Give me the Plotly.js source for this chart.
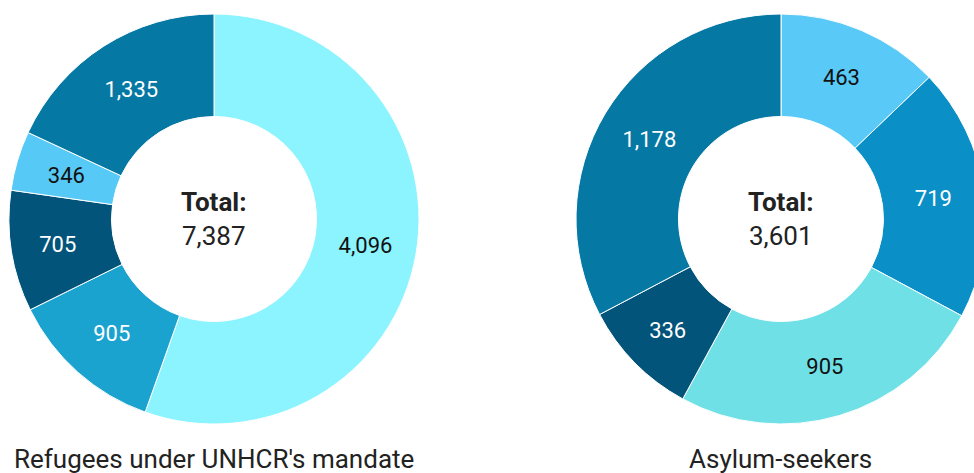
<!DOCTYPE html>
<html>
<head>
<meta charset="utf-8">
<script src="https://cdn.plot.ly/plotly-3.0.1.min.js"></script>
<style>
html,body{margin:0;padding:0;overflow:hidden;background:#fff;width:974px;height:473px;}
#chart{width:1000px;height:473px;}
</style>
</head>
<body>
<div id="chart"></div>
<script>
// Data
const refugeeLabels = ["A", "B", "C", "D", "E"];
const refugeeValues = [4096, 905, 705, 346, 1335];
const refugeeColors = ["#8cf4ff", "#1aa3cf", "#02547a", "#57c9f7", "#0678a4"];
const refugeeTextColors = ["#111111", "#ffffff", "#ffffff", "#111111", "#ffffff"];

const asylumLabels = ["A", "B", "C", "D", "E"];
const asylumValues = [463, 719, 905, 336, 1178];
const asylumColors = ["#59c9f7", "#0a8fc6", "#6ee0e6", "#02547a", "#0678a4"];
const asylumTextColors = ["#111111", "#ffffff", "#111111", "#ffffff", "#ffffff"];

const chartTitles = ["Refugees under UNHCR's mandate", "Asylum-seekers"];
const totalLabel = "Total:";

const W = 1000, H = 473;
function dom(cx, cy, r) {
  return {x: [(cx - r) / W, (cx + r) / W], y: [(H - (cy + r)) / H, (H - (cy - r)) / H]};
}
const d1 = dom(214, 219, 205);
const d2 = dom(781, 219, 205);

const sum = a => a.reduce((s, v) => s + v, 0);
const fmt = v => v.toLocaleString("en-US");

// thin slices get their label from a transparent overlay ring so the label sits mid-ring
function isThin(v, vals) { return v / sum(vals) < 0.06; }

function pie(labels, values, colors, tcolors, domain) {
  return {
    type: "pie",
    labels: labels,
    values: values,
    hole: 0.5,
    sort: false,
    direction: "clockwise",
    rotation: 0,
    domain: domain,
    marker: {colors: colors, line: {color: "#ffffff", width: 1}},
    text: values.map(v => isThin(v, values) ? "" : fmt(v)),
    textinfo: "text",
    textposition: "inside",
    insidetextorientation: "horizontal",
    textfont: {family: "Roboto", size: 22, color: tcolors},
    hoverinfo: "none",
    showlegend: false
  };
}

function overlay(labels, values, tcolors, cx, cy) {
  // radius chosen so the inscribed-circle label centre falls on ring middle
  const thin = values.findIndex(v => isThin(v, values));
  const half = Math.PI * values[thin] / sum(values);
  const rOut = 154 * (1 + Math.sin(half));
  return {
    type: "pie",
    labels: labels,
    values: values,
    hole: 0.5,
    sort: false,
    direction: "clockwise",
    rotation: 0,
    domain: dom(cx, cy, rOut),
    marker: {colors: values.map(() => "rgba(0,0,0,0)"), line: {width: 0}},
    text: values.map(v => isThin(v, values) ? fmt(v) : ""),
    textinfo: "text",
    textposition: "inside",
    insidetextorientation: "horizontal",
    textfont: {family: "Roboto", size: 22, color: tcolors},
    hoverinfo: "none",
    showlegend: false
  };
}

function centerX(d) { return (d.x[0] + d.x[1]) / 2; }
function centerY(d) { return (d.y[0] + d.y[1]) / 2; }

const annotations = [];
[[d1, refugeeValues, chartTitles[0]], [d2, asylumValues, chartTitles[1]]].forEach(([d, vals, title]) => {
  annotations.push({
    xref: "paper", yref: "paper", x: centerX(d), y: centerY(d),
    xanchor: "center", yanchor: "middle", showarrow: false,
    text: "<b>" + totalLabel + "</b><br>" + fmt(sum(vals)),
    font: {family: "Roboto", size: 26, color: "#222222"}
  });
  annotations.push({
    xref: "paper", yref: "paper", x: centerX(d), y: (H - 459) / H,
    xanchor: "center", yanchor: "middle", showarrow: false,
    text: title,
    font: {family: "Roboto", size: 26, color: "#222222"}
  });
});

const layout = {
  width: W, height: H,
  margin: {l: 0, r: 0, t: 0, b: 0},
  paper_bgcolor: "#ffffff",
  font: {family: "Roboto"},
  uniformtext: {minsize: 22, mode: "show"},
  annotations: annotations
};

Plotly.newPlot("chart", [
  pie(refugeeLabels, refugeeValues, refugeeColors, refugeeTextColors, d1),
  pie(asylumLabels, asylumValues, asylumColors, asylumTextColors, d2),
  overlay(refugeeLabels, refugeeValues, refugeeTextColors, 214, 219)
], layout, {displayModeBar: false, staticPlot: true});
</script>
</body>
</html>
